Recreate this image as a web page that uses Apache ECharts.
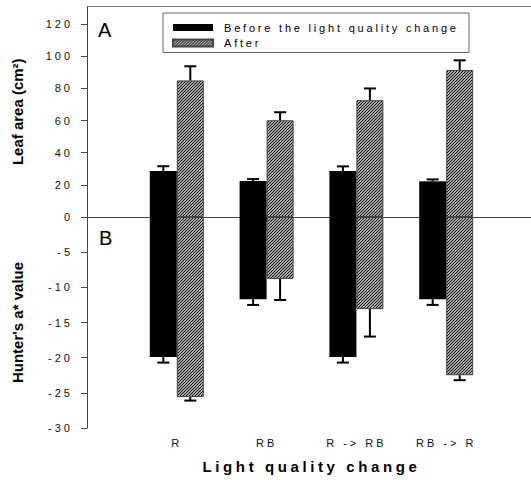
<!DOCTYPE html>
<html>
<head>
<meta charset="utf-8">
<script src="https://cdn.jsdelivr.net/npm/echarts/dist/echarts.min.js"></script>
<style>
  html, body { margin: 0; padding: 0; background: #fff; }
  #chart { width: 531px; height: 480px; }
</style>
</head>
<body>
<div id="chart"></div>
<script>
// ---------------- data ----------------
const categories = ['R', 'RB', 'R -> RB', 'RB -> R'];
const leafBefore    = [28.6, 22.4, 28.6, 22.2];
const leafBeforeErr = [3.0, 1.2, 2.9, 1.2];
const leafAfter     = [85.0, 60.2, 72.7, 91.5];
const leafAfterErr  = [8.8, 5.0, 7.3, 6.0];
const hunterBefore    = [-19.9, -11.7, -19.9, -11.7];
const hunterBeforeErr = [0.8, 0.8, 0.8, 0.8];
const hunterAfter     = [-25.6, -8.8, -13.1, -22.5];
const hunterAfterErr  = [0.5, 3.0, 3.9, 0.7];
const leafTicks   = [0, 20, 40, 60, 80, 100, 120];
const hunterTicks = [-30, -25, -20, -15, -10, -5, 0];
const nameBefore = 'Before the light quality change';
const nameAfter  = 'After';
const xName = 'Light quality change';
const yNameTop = 'Leaf area (cm\u00B2)';
const yNameBottom = "Hunter's a* value";

// ---------------- helpers ----------------
const FONT = 'Liberation Sans, Arial, sans-serif';
const padCats = [''].concat(categories, ['']);
function pad(arr) { return [null].concat(arr, [null]); }
function errData(vals, errs, sign) {
  return vals.map((v, i) => [i + 1, v, v + sign * errs[i]]);
}
function hatch() {
  const c = document.createElement('canvas');
  c.width = 3; c.height = 3;
  const g = c.getContext('2d');
  g.fillStyle = '#a4a4a4'; g.fillRect(0, 0, 3, 3);
  g.fillStyle = '#111111';
  for (let i = 0; i < 3; i++) g.fillRect(i, 2 - i, 1, 1);
  return c;
}
const hatchFill = { image: hatch(), repeat: 'repeat', imageWidth: 3, imageHeight: 3 };
const BAR_W = 27;

function errSeries(name, xi, yi, data, offset) {
  return {
    name: name, type: 'custom', xAxisIndex: xi, yAxisIndex: yi, z: 5,
    data: data, encode: { x: 0, y: 1 },
    renderItem: function (params, api) {
      const p1 = api.coord([api.value(0), api.value(1)]);
      const p2 = api.coord([api.value(0), api.value(2)]);
      const x = p1[0] + offset;
      return {
        type: 'group',
        children: [
          { type: 'line', shape: { x1: x, y1: p1[1], x2: x, y2: p2[1] }, style: { stroke: '#000', lineWidth: 2 } },
          { type: 'line', shape: { x1: x - 6, y1: p2[1], x2: x + 6, y2: p2[1] }, style: { stroke: '#000', lineWidth: 2 } }
        ]
      };
    }
  };
}

const chart = echarts.init(document.getElementById('chart'), null, { renderer: 'svg' });

const baseCatAxis = {
  type: 'category', data: padCats, boundaryGap: false,
  axisTick: { show: false }, axisLabel: { show: false }, splitLine: { show: false }
};

const option = {
  animation: false,
  backgroundColor: '#fff',
  grid: [
    { left: 87, top: 6.5, width: 449, height: 210.5, containLabel: false, outerBoundsMode: 'none' },
    { left: 87, top: 217, width: 449, height: 211, containLabel: false, outerBoundsMode: 'none' }
  ],
  legend: {
    data: [nameBefore, nameAfter], orient: 'vertical', left: 163, top: 13,
    itemWidth: 40, itemHeight: 7, itemGap: 4.5, icon: 'rect',
    padding: [9, 97, 4, 9], borderColor: '#666', borderWidth: 1, selectedMode: false,
    textStyle: { fontSize: 11, fontFamily: FONT, color: '#000', padding: [0, 0, 0, 6] }
  },
  xAxis: [
    Object.assign({}, baseCatAxis, { gridIndex: 0, position: 'bottom',
      axisLine: { show: true, lineStyle: { color: '#666', width: 1 } } }),
    Object.assign({}, baseCatAxis, { gridIndex: 0, position: 'top',
      axisLine: { show: true, lineStyle: { color: '#777', width: 1 } } }),
    {
      type: 'category', data: padCats, boundaryGap: false, gridIndex: 1, position: 'bottom',
      axisLine: { show: true, lineStyle: { color: '#444', width: 1 } },
      axisTick: { show: true, length: 5, interval: function (i) { return i > 0 && i < padCats.length - 1; },
        lineStyle: { color: '#444', width: 1 } },
      axisLabel: { show: true, interval: 0, margin: 9, fontSize: 11, fontFamily: FONT, color: '#111' },
      splitLine: { show: false },
      name: xName, nameLocation: 'middle', nameGap: 31, nameMoveOverlap: false,
      nameTextStyle: { fontSize: 15, fontWeight: 'bold', fontFamily: FONT, color: '#000' }
    }
  ],
  yAxis: [
    {
      type: 'value', gridIndex: 0, min: leafTicks[0], max: 131,
      interval: leafTicks[1] - leafTicks[0],
      axisLine: { show: true, lineStyle: { color: '#444', width: 1 } },
      axisTick: { show: true, length: 6, lineStyle: { color: '#444' } },
      axisLabel: { margin: 14, fontSize: 11, fontFamily: FONT, color: '#111', showMinLabel: false, showMaxLabel: false },
      splitLine: { show: false },
      name: yNameTop, nameLocation: 'middle', nameRotate: 90, nameGap: 62, nameMoveOverlap: false,
      nameTextStyle: { fontSize: 15, fontWeight: 'bold', fontFamily: FONT, color: '#000' }
    },
    {
      type: 'value', gridIndex: 1, min: hunterTicks[0], max: hunterTicks[hunterTicks.length - 1],
      interval: hunterTicks[1] - hunterTicks[0],
      axisLine: { show: true, lineStyle: { color: '#444', width: 1 } },
      axisTick: { show: true, length: 6, lineStyle: { color: '#444' } },
      axisLabel: { margin: 14, fontSize: 11, fontFamily: FONT, color: '#111' },
      splitLine: { show: false },
      name: yNameBottom, nameLocation: 'middle', nameRotate: 90, nameGap: 62, nameMoveOverlap: false,
      nameTextStyle: { fontSize: 15, fontWeight: 'bold', fontFamily: FONT, color: '#000' }
    }
  ],
  graphic: [
    { type: 'text', left: 98, top: 20, style: { text: 'A', font: '20px ' + FONT, fill: '#000' } },
    { type: 'text', left: 99, top: 228, style: { text: 'B', font: '20px ' + FONT, fill: '#000' } }
  ],
  series: [
    { name: nameBefore, type: 'bar', xAxisIndex: 0, yAxisIndex: 0, data: pad(leafBefore),
      barWidth: BAR_W, barGap: '0%', itemStyle: { color: '#000', borderColor: '#000', borderWidth: 0 } },
    { name: nameAfter, type: 'bar', xAxisIndex: 0, yAxisIndex: 0, data: pad(leafAfter),
      barWidth: BAR_W, barGap: '0%', itemStyle: { color: hatchFill, borderColor: '#444', borderWidth: 1 } },
    { name: nameBefore, type: 'bar', xAxisIndex: 2, yAxisIndex: 1, data: pad(hunterBefore),
      barWidth: BAR_W, barGap: '0%', itemStyle: { color: '#000', borderColor: '#000', borderWidth: 0 } },
    { name: nameAfter, type: 'bar', xAxisIndex: 2, yAxisIndex: 1, data: pad(hunterAfter),
      barWidth: BAR_W, barGap: '0%', itemStyle: { color: hatchFill, borderColor: '#444', borderWidth: 1 } },
    errSeries('errLeafBefore', 0, 0, errData(leafBefore, leafBeforeErr, 1), -BAR_W / 2),
    errSeries('errLeafAfter', 0, 0, errData(leafAfter, leafAfterErr, 1), BAR_W / 2),
    errSeries('errHunterBefore', 2, 1, errData(hunterBefore, hunterBeforeErr, -1), -BAR_W / 2),
    errSeries('errHunterAfter', 2, 1, errData(hunterAfter, hunterAfterErr, -1), BAR_W / 2)
  ]
};

chart.setOption(option);

function applySpacing() {
  document.querySelectorAll('#chart svg text').forEach(function (t) {
    const s = t.textContent;
    let ls = null;
    if (s === xName) ls = '3.6px';
    else if (s === nameBefore || s === nameAfter) ls = '2.8px';
    else if (/^-?\d+$/.test(s) || categories.indexOf(s) >= 0) ls = '3px';
    if (ls) t.setAttribute('letter-spacing', ls);
  });
}
applySpacing();
chart.on('finished', applySpacing);
</script>
</body>
</html>
